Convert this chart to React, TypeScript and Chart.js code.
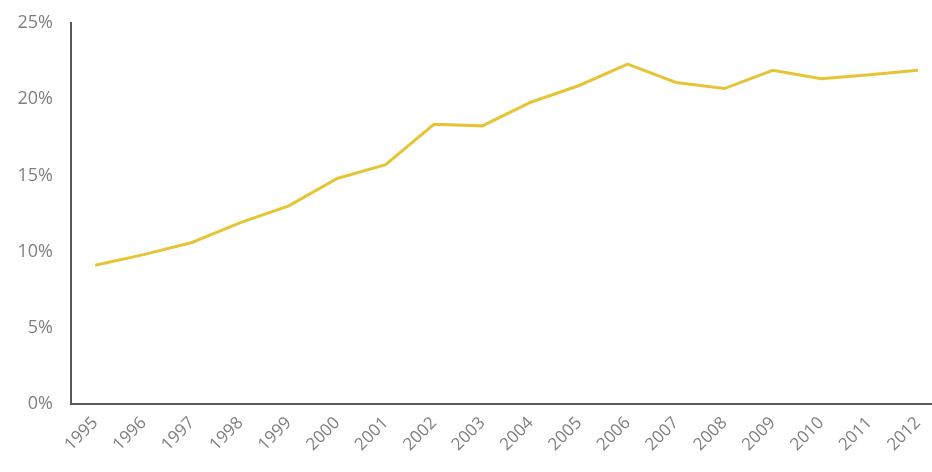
import React, { useEffect, useRef } from "react";
import { Chart, registerables } from "chart.js";

Chart.register(...registerables);

const years = [
  "1995", "1996", "1997", "1998", "1999", "2000", "2001", "2002", "2003",
  "2004", "2005", "2006", "2007", "2008", "2009", "2010", "2011", "2012",
];
const shares = [
  9.1, 9.8, 10.6, 11.9, 13.0, 14.8, 15.7, 18.35, 18.25,
  19.8, 20.9, 22.3, 21.1, 20.7, 21.9, 21.35, 21.6, 21.9,
];
const yTicks = [0, 5, 10, 15, 20, 25];

export default function App() {
  const ref = useRef<HTMLCanvasElement | null>(null);

  useEffect(() => {
    if (!ref.current) return;
    const chart = new Chart(ref.current, {
      type: "line",
      data: {
        datasets: [
          {
            data: shares.map((v, i) => ({ x: i, y: v })),
            borderColor: "#E5C436",
            borderWidth: 3,
            pointRadius: 0,
            tension: 0,
            fill: false,
          },
        ],
      },
      options: {
        responsive: false,
        animation: false,
        layout: { padding: { top: 23, right: 0, left: 0, bottom: 0 } },
        plugins: { legend: { display: false }, tooltip: { enabled: false } },
        scales: {
          x: {
            type: "linear",
            min: -0.5,
            max: 17.29,
            grid: { display: false, drawTicks: false },
            border: { display: true, color: "#595959", width: 2 },
            afterBuildTicks: (axis: any) => {
              axis.ticks = years.map((_, i) => ({ value: i }));
            },
            afterFit: (axis: any) => {
              axis.height = 68;
              axis.paddingLeft = 0;
              axis.paddingRight = 0;
            },
            ticks: {
              autoSkip: false,
              maxRotation: 45,
              minRotation: 45,
              padding: 9,
              color: "#7F7F7F",
              font: { family: "'Open Sans', sans-serif", size: 17 },
              callback: (v: any) => years[Math.round(Number(v))] ?? "",
            },
          },
          y: {
            min: 0,
            max: 25,
            grid: { display: false, drawTicks: false },
            border: { display: true, color: "#595959", width: 2 },
            afterBuildTicks: (axis: any) => {
              axis.ticks = yTicks.map((v) => ({ value: v }));
            },
            afterFit: (axis: any) => {
              axis.width = 71;
              axis.paddingTop = 0;
              axis.paddingBottom = 0;
            },
            ticks: {
              padding: 18,
              color: "#7F7F7F",
              font: { family: "'Open Sans', sans-serif", size: 18 },
              callback: (v: any) => `${v}%`,
            },
          },
        },
      },
    });
    return () => chart.destroy();
  }, []);

  return (
    <div style={{ position: "absolute", left: 0, top: 0, width: 932, height: 472, background: "#fff" }}>
      <canvas ref={ref} width={932} height={472} style={{ width: 932, height: 472 }} />
    </div>
  );
}
